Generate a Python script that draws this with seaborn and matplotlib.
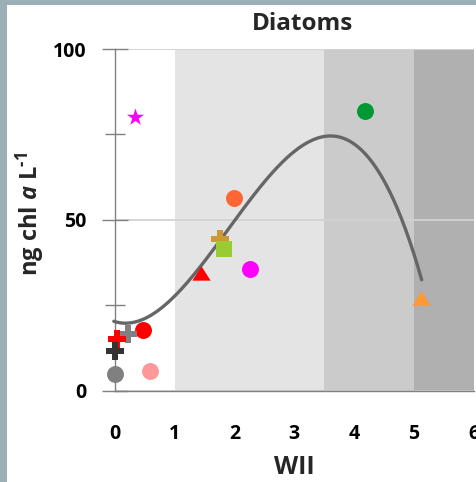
import numpy as np
import pandas as pd
import matplotlib
matplotlib.use("Agg")
import matplotlib.pyplot as plt
from matplotlib.patches import Rectangle
import seaborn as sns

# ---- data ----
wii = [0.33, 4.18, 1.99, 1.76, 1.82, 2.25, 1.44, 5.12, 0.47, 0.22, 0.04, 0.00, 0.00, 0.58]
chl = [80.1, 82.0, 56.5, 44.4, 41.4, 35.6, 34.4, 27.2, 17.8, 16.6, 15.0, 11.6, 4.8, 5.9]
marker_kind = ["star", "circle", "circle", "plus", "square", "circle", "tri", "tri",
               "circle", "plus", "plus", "plus", "circle", "circle"]
point_colors = ["#ff00ff", "#009933", "#ff6633", "#cc9933", "#99cc33", "#ff00ff", "#ff0000",
                "#ff9933", "#ff0000", "#808080", "#ff0000", "#333333", "#808080", "#ff9999"]

# trendline readings (x, y) used for a cubic fit
trend_x = [-0.02, 0.22, 0.75, 1.00, 1.42, 1.76, 2.09, 2.65, 3.20, 3.61, 4.32, 4.77, 5.13]
trend_y = [20.5, 19.9, 23.6, 27.0, 36.3, 45.1, 50.9, 65.1, 72.4, 73.9, 67.0, 50.5, 32.9]

# shaded WII bands
band_lo = [1.0, 3.5, 5.0]
band_hi = [3.5, 5.0, 6.0]
band_colors = ["#e4e4e4", "#cbcbcb", "#b0b0b0"]

x_ticks = [0, 1, 2, 3, 4, 5, 6]
y_major = [0, 50, 100]
y_minor = [25, 75]

# ---- style ----
sns.set_style("white")
plt.rcParams["font.family"] = ["Open Sans", "DejaVu Sans"]
plt.rcParams["font.weight"] = "bold"
plt.rcParams["mathtext.fontset"] = "custom"
plt.rcParams["mathtext.rm"] = "Open Sans:bold"
plt.rcParams["mathtext.it"] = "Open Sans:italic:bold"
plt.rcParams["mathtext.bf"] = "Open Sans:bold"

W, H = 477, 482
fig = plt.figure(figsize=(W / 100, H / 100), dpi=100)
fig.patch.set_facecolor("#9cafb7")
fig.add_artist(Rectangle((7 / W, 0), 1 - 7 / W, 1 - 5 / H, transform=fig.transFigure,
                         facecolor="white", edgecolor="none", zorder=-10))

x0, x6, y0, y100 = 115, 473.7, 390.7, 49
ax = fig.add_axes([x0 / W, (H - y0) / H, (x6 - x0) / W, (y0 - y100) / H])
ax.set_facecolor("none")

for lo, hi, c in zip(band_lo, band_hi, band_colors):
    ax.axvspan(lo, hi, color=c, lw=0, zorder=1)

# trendline
coef = np.polyfit(trend_x, trend_y, 3)
xs = np.linspace(min(trend_x), max(trend_x), 300)
sns.lineplot(x=xs, y=np.polyval(coef, xs), color="#666666", lw=2.4, ax=ax,
             zorder=2.6, clip_on=False)

tri = [(-1, -0.78), (1, -0.78), (0, 0.78)]
mk = {"star": ("*", 13.0), "circle": ("o", 12.2), "plus": ("P", 12.7),
      "square": ("s", 11.7), "tri": (tri, 13.2)}

df = pd.DataFrame({"wii": wii, "chl": chl, "kind": marker_kind, "col": point_colors})
for i, r in df.iterrows():
    m, ms = mk[r["kind"]]
    sns.scatterplot(x=[r["wii"]], y=[r["chl"]], marker=m, s=ms ** 2, color=r["col"],
                    linewidth=0, ax=ax, zorder=3 + i * 0.01, clip_on=False, legend=False)

ax.set_xlim(0, 6)
ax.set_ylim(0, 100)
ax.set_xticks(x_ticks)
ax.set_yticks(y_major)
ax.set_yticks(y_minor, minor=True)
ax.set_xticklabels([str(t) for t in x_ticks])
ax.set_yticklabels([str(t) for t in y_major])

for s in ["top", "right"]:
    ax.spines[s].set_visible(False)
for s in ["left", "bottom"]:
    ax.spines[s].set_color("#808080")
    ax.spines[s].set_linewidth(1.0)

ax.tick_params(axis="x", which="major", direction="inout", length=18.7, width=1.0,
               color="#808080", labelsize=14, pad=14.5, labelcolor="black")
ax.tick_params(axis="y", which="major", direction="inout", length=18.7, width=1.0,
               color="#808080", labelsize=14, pad=11, labelcolor="black", left=True)
ax.tick_params(axis="y", which="minor", direction="inout", length=15, width=1.0,
               color="#808080", left=True)
for lab in ax.get_xticklabels() + ax.get_yticklabels():
    lab.set_fontweight("bold")

ax.yaxis.grid(True, which="major", color="#d2d2d2", lw=1.3)
ax.xaxis.grid(False)
ax.set_axisbelow("line")
ax.set_xlabel("")
ax.set_ylabel("")

fig.text(302 / W, 1 - 24 / H, "Diatoms", ha="center", va="center", fontsize=17.5,
         fontweight="bold")
fig.text(294 / W, 1 - 467 / H, "WII", ha="center", va="center", fontsize=18,
         fontweight="bold")
fig.text(30 / W, 1 - 214 / H, r"ng chl $a$ L$^{\text{-1}}$", ha="center", va="center",
         rotation=90, fontsize=17, fontweight="bold")

fig.savefig("out.png", dpi=100, facecolor=fig.get_facecolor())
